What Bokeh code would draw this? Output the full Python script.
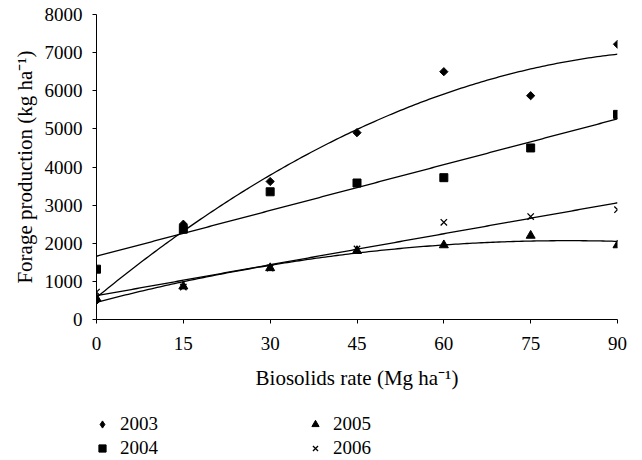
import numpy as np
from bokeh.plotting import figure
from bokeh.layouts import column
from bokeh.models import Range1d, FixedTicker, Legend, LegendItem
from bokeh.embed import file_html
from bokeh.resources import INLINE

rates = [0, 15, 30, 45, 60, 75, 90]
y2003 = [500, 2500, 3620, 4900, 6500, 5870, 7220]
y2004 = [1320, 2370, 3350, 3580, 3720, 4500, 5380]
y2005 = [550, 870, 1350, 1800, 1950, 2200, 1950]
y2006 = [720, 850, 1350, 1850, 2550, 2700, 2880]
years = ["2003", "2004", "2005", "2006"]
x_ticks = [0, 15, 30, 45, 60, 75, 90]
y_ticks = [0, 1000, 2000, 3000, 4000, 5000, 6000, 7000, 8000]

FONT = "Liberation Serif"
FS = "19px"
FL = "21px"

p = figure(frame_width=521, frame_height=305, output_backend="svg", toolbar_location=None,
           x_range=Range1d(0, 90), y_range=Range1d(0, 8000),
           min_border_left=96, min_border_right=16, min_border_top=14, min_border_bottom=80)
p.outline_line_color = None
p.xgrid.visible = False
p.ygrid.visible = False
p.background_fill_color = "white"

# trend lines (least squares fits of the data)
xs = np.linspace(0, 90, 181)
fits = [(y2003, 2), (y2004, 1), (y2005, 2), (y2006, 1)]
for ys, deg in fits:
    c = np.polyfit(rates, ys, deg)
    p.line(xs, np.polyval(c, xs), line_color="black", line_width=1.3)

p.scatter(rates, y2003, marker="square", angle=np.pi / 4, size=5.8,
          fill_color="black", line_color="black")
p.scatter(rates, y2004, marker="square", size=8,
          fill_color="black", line_color="black")
p.scatter(rates, y2005, marker="triangle", size=9,
          fill_color="black", line_color="black")
p.scatter(rates, y2006, marker="x", size=9,
          line_color="black", line_width=1.3)

for ax in (p.xaxis[0], p.yaxis[0]):
    ax.major_label_text_font = FONT
    ax.major_label_text_font_size = FS
    ax.major_label_text_color = "black"
    ax.axis_label_text_font = FONT
    ax.axis_label_text_font_size = FL
    ax.axis_label_text_font_style = "normal"
    ax.axis_label_text_color = "black"
    ax.axis_line_color = "black"
    ax.major_tick_line_color = "black"
    ax.major_tick_in = 0
    ax.major_tick_out = 4
    ax.minor_tick_line_color = None

p.xaxis.ticker = FixedTicker(ticks=x_ticks)
p.yaxis.ticker = FixedTicker(ticks=y_ticks)
p.xaxis.axis_label = "Biosolids rate (Mg ha⁻¹)"
p.yaxis.axis_label = "Forage production (kg ha⁻¹)"
p.xaxis.major_label_standoff = 13
p.yaxis.major_label_standoff = 10
p.xaxis.axis_label_standoff = 13
p.yaxis.axis_label_standoff = 5

# legend strip below the chart (key swatches only, kept outside the visible range)
lg = figure(width=633, height=60, output_backend="svg", toolbar_location=None,
            x_range=Range1d(0, 1), y_range=Range1d(0, 1),
            x_axis_location=None, y_axis_location=None,
            min_border_left=0, min_border_right=0, min_border_top=0, min_border_bottom=0)
lg.outline_line_color = None
lg.xgrid.visible = False
lg.ygrid.visible = False
markers = [("diamond", {}), ("square", {}), ("triangle", {}), ("x", {"line_width": 1.3})]
items = []
for yr, (mk, kw) in zip(years, markers):
    r = lg.scatter([-10], [-10], marker=mk, fill_color="black", line_color="black", **kw)
    items.append(LegendItem(label=yr, renderers=[r]))


def make_legend(its, x):
    return Legend(items=its, orientation="vertical",
                  location=(x, 0), margin=0, padding=0,
                  glyph_width=18, glyph_height=20, label_height=20,
                  label_standoff=9, spacing=2,
                  label_text_font=FONT, label_text_font_size=FS,
                  label_text_color="black",
                  border_line_color=None, background_fill_alpha=0)


lg.add_layout(make_legend(items[:2], -3))
lg.add_layout(make_legend(items[2:], 210))

layout = column(p, lg, spacing=0)
open("out.html", "w").write(file_html(layout, INLINE))
